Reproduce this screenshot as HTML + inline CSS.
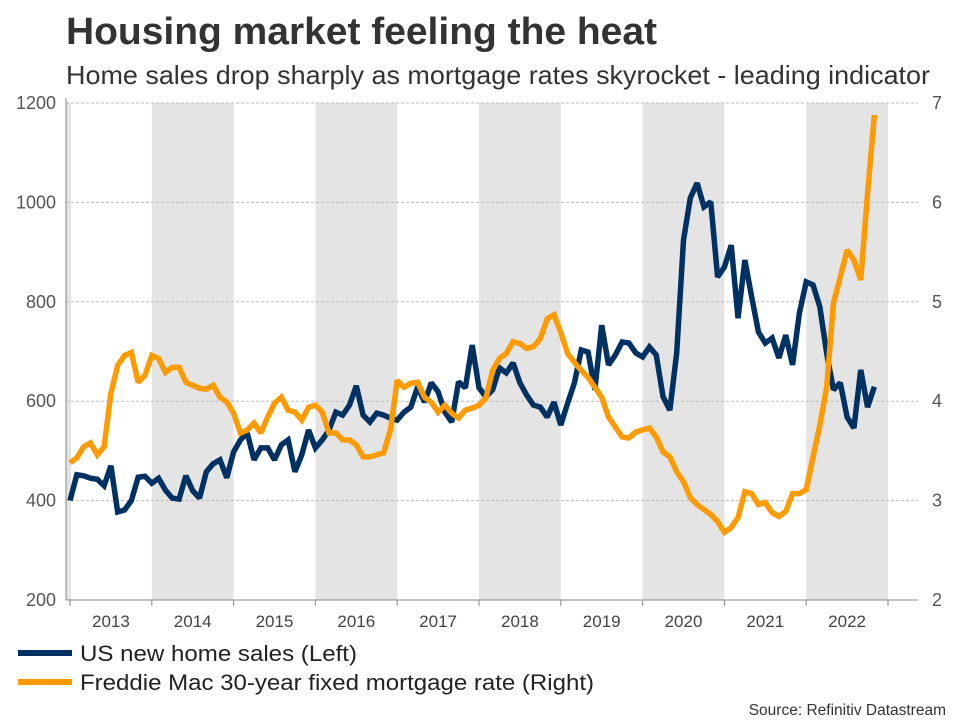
<!DOCTYPE html>
<html><head><meta charset="utf-8"><style>
body{margin:0;background:#fff;font-family:"Liberation Sans",Arial,sans-serif;}
svg text{font-family:"Liberation Sans",Arial,sans-serif;}
</style></head><body>
<svg id="chart" width="960" height="720" xmlns="http://www.w3.org/2000/svg">
<text x="66" y="44" font-size="38" font-weight="bold" fill="#333" textLength="591" lengthAdjust="spacingAndGlyphs">Housing market feeling the heat</text>
<text x="66" y="84" font-size="26" fill="#333" textLength="864" lengthAdjust="spacingAndGlyphs">Home sales drop sharply as mortgage rates skyrocket - leading indicator</text>
<g id="bands"></g><g id="grid"></g><g id="axes"></g><g id="series"></g>
<g>
<line x1="18" y1="653" x2="72" y2="653" stroke="#003163" stroke-width="6"/>
<text x="80" y="661" font-size="22" fill="#222" textLength="277" lengthAdjust="spacingAndGlyphs">US new home sales (Left)</text>
<line x1="18" y1="682" x2="72" y2="682" stroke="#ff9b00" stroke-width="6"/>
<text x="80" y="690" font-size="22" fill="#222" textLength="514" lengthAdjust="spacingAndGlyphs">Freddie Mac 30-year fixed mortgage rate (Right)</text>
</g>
<text x="946" y="715" font-size="15.5" fill="#333" text-anchor="end">Source: Refinitiv Datastream</text>
</svg>
<script>
const years = [2013,2014,2015,2016,2017,2018,2019,2020,2021,2022];
const leftTicks = [200,400,600,800,1000,1200];
const rightTicks = [2,3,4,5,6,7];
const homeSales = [400,452,450,445,443,430,470,377,381,400,447,449,435,445,421,405,403,450,420,405,458,474,482,446,498,522,536,482,506,506,482,512,522,458,492,542,506,522,542,578,572,592,631,572,558,576,572,566,562,578,588,629,598,637,619,578,558,639,627,713,627,609,623,667,657,677,637,612,592,588,568,598,552,596,637,703,699,623,753,673,693,719,717,697,689,709,693,609,582,697,924,1009,1039,991,1001,850,870,914,767,884,810,739,717,727,687,733,673,777,840,834,790,697,623,637,568,546,663,588,629];
const mortgageRate = [3.38,3.43,3.54,3.58,3.46,3.54,4.08,4.36,4.46,4.49,4.19,4.26,4.46,4.43,4.29,4.34,4.34,4.19,4.16,4.13,4.12,4.16,4.04,3.99,3.88,3.68,3.71,3.78,3.68,3.84,3.98,4.04,3.91,3.89,3.81,3.94,3.96,3.89,3.68,3.68,3.61,3.61,3.56,3.44,3.44,3.46,3.48,3.71,4.21,4.14,4.18,4.19,4.04,3.99,3.89,3.96,3.88,3.83,3.91,3.93,3.96,4.03,4.31,4.43,4.48,4.60,4.58,4.53,4.55,4.63,4.83,4.87,4.69,4.48,4.39,4.31,4.24,4.14,4.04,3.84,3.74,3.64,3.63,3.69,3.71,3.73,3.64,3.49,3.44,3.29,3.19,3.03,2.96,2.91,2.86,2.79,2.68,2.73,2.83,3.09,3.07,2.96,2.98,2.88,2.84,2.89,3.07,3.07,3.11,3.44,3.76,4.14,4.99,5.25,5.52,5.42,5.22,6.09,6.88];

const NS="http://www.w3.org/2000/svg";
const X0=70, YW=81.8, TOP=103, BOT=600, RIGHT=918;
const xMonth=i=>X0+i*YW/12;
const xYear=y=>X0+(y-2013)*YW;
const yL=v=>BOT-(v-200)/1000*(BOT-TOP);
const yR=v=>BOT-(v-2)/5*(BOT-TOP);
function mk(tag,attrs,parent){const e=document.createElementNS(NS,tag);for(const k in attrs)e.setAttribute(k,attrs[k]);parent.appendChild(e);return e;}
const bands=document.getElementById('bands'),grid=document.getElementById('grid'),axes=document.getElementById('axes'),series=document.getElementById('series');

let b0=mk('rect',{x:66,y:TOP,width:X0-66+1,height:BOT-TOP,fill:'#e4e4e4'},bands);


years.forEach((yr,k)=>{
  if(k%2===1){const r=mk('rect',{x:xYear(yr),y:TOP,width:YW,height:BOT-TOP,fill:'#e4e4e4'},bands);
  
  }
  const t=mk('text',{x:xYear(yr)+YW/2,y:627,'font-size':17,fill:'#444','text-anchor':'middle'},axes);t.textContent=yr;
  
  
});
years.concat([2023]).forEach(yr=>{const l=mk('line',{x1:xYear(yr),x2:xYear(yr),y1:BOT,y2:BOT+6,stroke:'#888','stroke-width':1},axes);
  
  });
leftTicks.forEach(v=>{
  const g=mk('line',{x1:66,x2:RIGHT,y1:yL(v),y2:yL(v),stroke:'#bbb','stroke-dasharray':'3,2','stroke-width':1},grid);
  
  
  const t=mk('text',{x:56,y:yL(v)+6,'font-size':18,fill:'#555','text-anchor':'end'},axes);t.textContent=v;
  
  
});
rightTicks.forEach(v=>{
  const t=mk('text',{x:932,y:yR(v)+6,'font-size':18,fill:'#555'},axes);t.textContent=v;
  
  
});
let la=mk('line',{x1:66,x2:66,y1:TOP-5,y2:BOT,stroke:'#888'},axes);


let ba=mk('line',{x1:66,x2:RIGHT,y1:BOT,y2:BOT,stroke:'#888'},axes);



const p1=mk('polyline',{points:homeSales.map((v,i)=>xMonth(i)+','+yL(v)).join(' '),fill:'none',stroke:'#003163','stroke-width':5.5,'stroke-linejoin':'miter','stroke-miterlimit':2},series);


const p2=mk('polyline',{points:mortgageRate.map((v,i)=>xMonth(i)+','+yR(v)).join(' '),fill:'none',stroke:'#ff9b00','stroke-width':5.5,'stroke-linejoin':'miter','stroke-miterlimit':2},series);


</script>
</body></html>
